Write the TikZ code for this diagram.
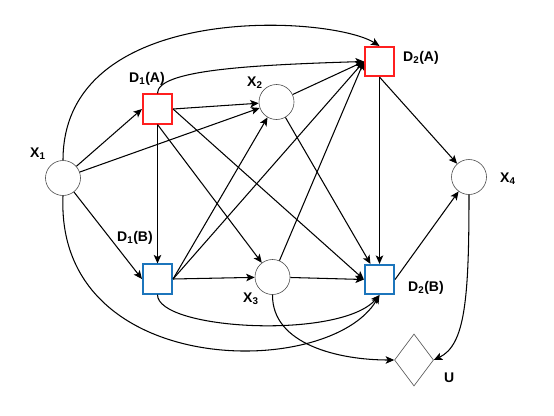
\documentclass[tikz,border=0pt]{standalone}
\usepackage{fontspec}
\setmainfont{Liberation Sans}
\usetikzlibrary{arrows.meta,shapes.geometric,positioning}
\definecolor{dred}{HTML}{FF1F1F}
\definecolor{dblue}{HTML}{1C75BC}

\begin{document}
\begin{tikzpicture}[x=1pt,y=-1pt,
  chance/.style={circle,draw=black!70,line width=0.6pt,minimum size=35pt,inner sep=0pt},
  decA/.style={rectangle,draw=dred,line width=1.6pt,minimum size=29.5pt,inner sep=0pt},
  decB/.style={decA,draw=dblue},
  util/.style={diamond,draw=black!70,line width=0.6pt,minimum width=39pt,minimum height=52pt,inner sep=0pt},
  tag/.style={anchor=base west,inner sep=0pt,font=\fontsize{14}{16}\selectfont\bfseries},
  edge/.style={-{Stealth[length=8.5pt,width=7.5pt,inset=2pt]},line width=1.05pt}]
  \useasboundingbox (0,0) rectangle (554,415);
  % nodes
  \node[chance] (x1) at (63,178) {};
  \node[chance] (x2) at (276.5,102) {};
  \node[chance] (x3) at (272.5,277) {};
  \node[chance] (x4) at (469,177) {};
  \node[decA] (d1a) at (157.5,109) {};
  \node[decA] (d2a) at (379.5,61.5) {};
  \node[decB] (d1b) at (157.5,279) {};
  \node[decB] (d2b) at (379.5,279.5) {};
  \node[util] (u) at (414,360) {};
  % labels
  \node[tag] (lx1) at (30,157) {X\textsubscript{1}};
  \node[tag] (lx2) at (247,86) {X\textsubscript{2}};
  \node[tag] (lx3) at (243,302) {X\textsubscript{3}};
  \node[tag] (lx4) at (500,182) {X\textsubscript{4}};
  \node[tag] (ld1a) at (129,82) {D\textsubscript{1}(A)};
  \node[tag] (ld2a) at (403,61) {D\textsubscript{2}(A)};
  \node[tag] (ld1b) at (117,241) {D\textsubscript{1}(B)};
  \node[tag] (ld2b) at (408,291) {D\textsubscript{2}(B)};
  \node[tag] (lu) at (444,382) {U};
  % straight arcs
  \foreach \a/\b in {x1/d1a.west, x1/x2, x1/d1b.west, d1a.east/x2, d1a.south/d1b.north,
    d1a.south/x3, d1a.east/d2b.west, d1b.east/x3, d1b.east/x2, d1b.east/d2a.west,
    x2/d2a.west, x2/d2b, x3/d2a.west, x3/d2b.west, d2a.south/d2b.north,
    d2a.south/x4, d2b.east/x4}
  \draw[edge] (\a) -- (\b);
  % curved arcs
  \draw[edge] (x1.north) .. controls (63,0) and (330,15) .. (d2a.north);
  \draw[edge] (x1.south) .. controls (55,380) and (330,380) .. (d2b.south);
  \draw[edge] (d1a.north) .. controls (157,70) and (250,65) .. (d2a.west);
  \draw[edge] (d1b.south) .. controls (157,330) and (340,340) .. (d2b.south);
  \draw[edge] (x3.south) .. controls (272,345) and (340,360) .. (u.west);
  \draw[edge] (x4.south) .. controls (469,300) and (465,345) .. (u.east);
\end{tikzpicture}
\end{document}
